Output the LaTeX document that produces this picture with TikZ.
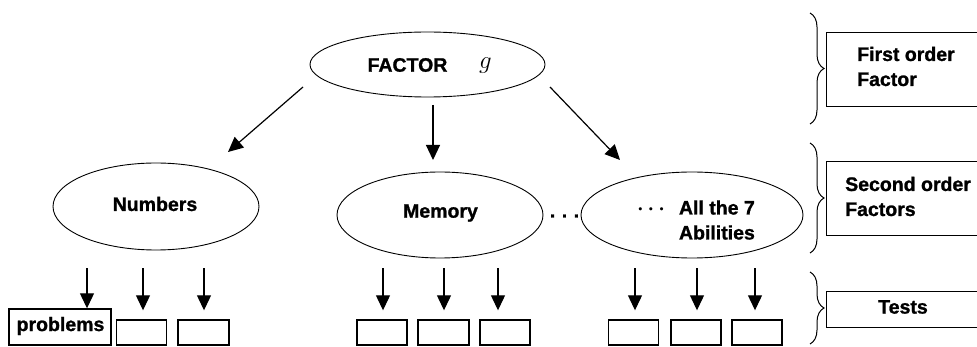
\documentclass[tikz,border=0pt]{standalone}
\usepackage{fontspec}
\setmainfont{Liberation Sans}
\newfontfamily\heavy[FakeBold=1.2]{Liberation Sans Bold}
\usetikzlibrary{shapes.geometric,arrows.meta,decorations.pathreplacing,calc}
\tikzset{
  lbl/.style={font=\fontsize{19.5}{25}\heavy, inner sep=0pt},
  ell/.style={draw, ellipse, line width=0.9pt, inner sep=0pt},
  arr/.style={line width=1.2pt, -{Triangle[length=15pt,width=14pt]}},
  tbox/.style={draw, line width=1.4pt, inner sep=0pt, minimum width=50pt, minimum height=25pt},
  sidebox/.style={draw, line width=1.4pt, inner sep=0pt, anchor=north west, minimum width=170pt},
  br/.style={line width=1pt, decorate, decoration={brace, amplitude=14pt}}
}
\begin{document}
\begin{tikzpicture}[x=1pt,y=-1pt]
\useasboundingbox (0,0) rectangle (977,347);
\clip (0,0) rectangle (977,347);
% ellipses
\node[ell, minimum width=235pt, minimum height=65pt] (F) at (427.5,64.5) {};
\node[lbl] (Ft) at (407.5,65) {FACTOR};
\node[inner sep=0pt, font=\fontsize{27}{27}\selectfont] (g) at (485.5,66) {$g$};
\node[ell, minimum width=206pt, minimum height=87pt] (N) at (156,206.5) {};
\node[lbl] (Nt) at (155,204) {Numbers};
\node[ell, minimum width=206pt, minimum height=86pt] (M) at (440,215) {};
\node[lbl] (Mt) at (440.5,213) {Memory};
\node[ell, minimum width=222pt, minimum height=86pt] (A) at (692,215) {};
\node[lbl, align=left] (At) at (696,222) {\begin{tabular}{@{}l@{\hspace{14pt}}l@{}}\boldmath$\cdots$ & All the 7\\ & Abilities\end{tabular}};
\node[lbl] (dots) at (564.5,216) {.\,\,.\,\,.};
% top arrows
\coordinate (s1) at (303,87);
\coordinate (e1) at (228,152);
\coordinate (s2) at (433,105);
\coordinate (e2) at (433,160);
\coordinate (s3) at (550,87);
\coordinate (e3) at (620,160);
\draw[arr] (s1) -- (e1);
\draw[arr] (s2) -- (e2);
\draw[arr] (s3) -- (e3);
% test boxes
\node[tbox, minimum width=102pt, minimum height=36pt] (p) at (60,327) {};
\node[lbl] (pt) at (60.5,326) {problems};
\node[tbox] (n2) at (141.5,332.5) {};
\node[tbox, minimum width=51pt] (n3) at (203.5,332.5) {};
\node[tbox] (m1) at (382,332.5) {};
\node[tbox, minimum width=51pt] (m2) at (443.5,332.5) {};
\node[tbox] (m3) at (505,332.5) {};
\node[tbox] (a1) at (633.5,332.5) {};
\node[tbox] (a2) at (696,332.5) {};
\node[tbox] (a3) at (757,332.5) {};
% test arrows
\draw[arr] ([xshift=27pt,yshift=40pt]p.north) -- ([xshift=27pt]p.north);
\foreach \b/\dx in {n2/1.5, n3/0.5, m1/1, m2/0.5, m3/-7, a1/1.5, a2/1, a3/-2}{
  \draw[arr] ([xshift=\dx pt,yshift=51pt]\b.north) -- ([xshift=\dx pt,yshift=9pt]\b.north);
}
% braces
\coordinate (b1t) at (810,13);
\coordinate (b1b) at (810,124);
\coordinate (b2t) at (810,143);
\coordinate (b2b) at (810,253);
\coordinate (b3t) at (810,272);
\coordinate (b3b) at (810,344);
\draw[br] (b1t) -- (b1b);
\draw[br] (b2t) -- (b2b);
\draw[br] (b3t) -- (b3b);
% side boxes
\node[sidebox, minimum height=74pt] (L1) at (826,32) {};
\node[lbl, align=left, anchor=west] (L1t) at (857,66.5) {First order\\Factor};
\node[sidebox, minimum height=74pt] (L2) at (826,161) {};
\node[lbl, align=left, anchor=west] (L2t) at (845,196.5) {Second order\\Factors};
\node[sidebox, minimum height=36pt] (L3) at (826,291) {};
\node[lbl] (L3t) at (903,307) {Tests};
\end{tikzpicture}
\end{document}
